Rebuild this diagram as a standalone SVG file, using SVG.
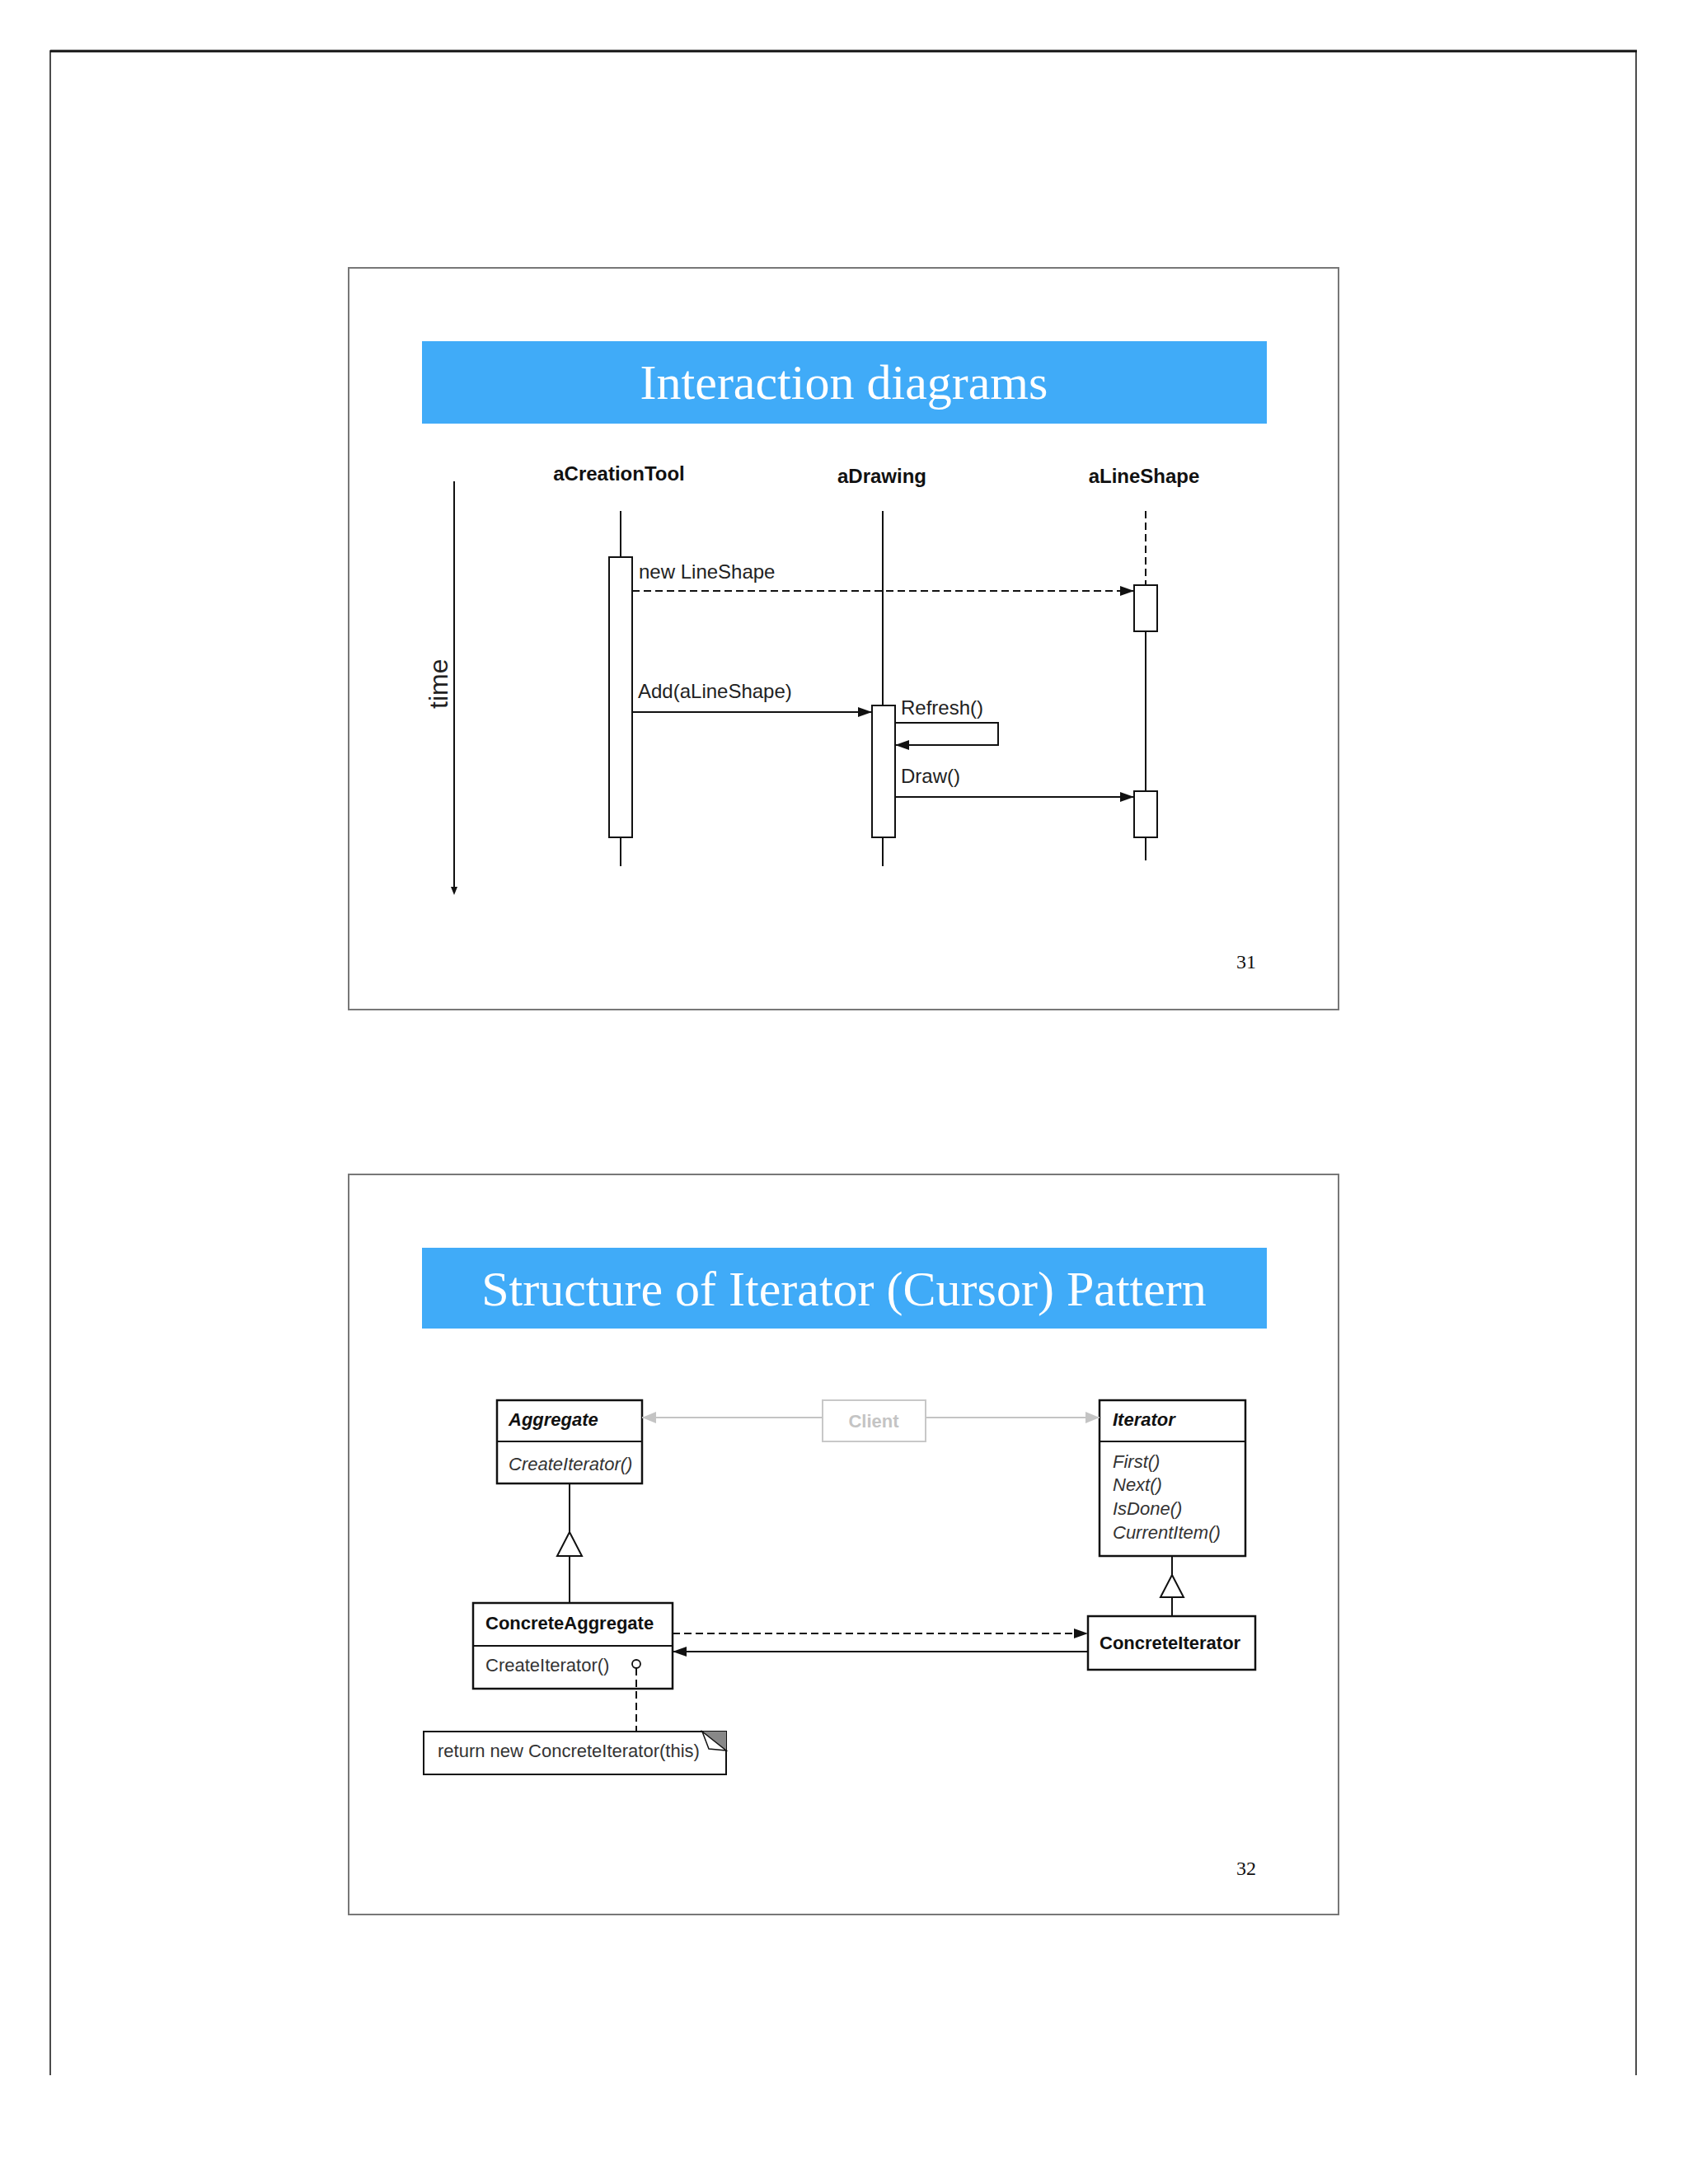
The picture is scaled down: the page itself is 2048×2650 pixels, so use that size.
<svg xmlns="http://www.w3.org/2000/svg" width="2048" height="2650" viewBox="0 0 2048 2650">
<style>
.frame{fill:none;stroke:#777;stroke-width:2}
.banner{fill:#40abf8}
.title{font-family:"Liberation Serif","Times New Roman",serif;font-size:60px;fill:#fff;text-anchor:middle}
.pnum{font-family:"Liberation Serif","Times New Roman",serif;font-size:24px;fill:#111}
.lbl{font-family:"Liberation Sans",Arial,sans-serif;font-size:24px;fill:#222}
.hdr{font-family:"Liberation Sans",Arial,sans-serif;font-size:24px;font-weight:bold;fill:#111;text-anchor:middle}
.ln{stroke:#111;stroke-width:2;fill:none}
.dash{stroke:#111;stroke-width:2;fill:none;stroke-dasharray:9,5}
.act{fill:#fff;stroke:#111;stroke-width:2}
.box{fill:#fff;stroke:#111;stroke-width:2.5}
.cn{font-family:"Liberation Sans",Arial,sans-serif;font-size:22px;font-weight:bold;fill:#111}
.cni{font-family:"Liberation Sans",Arial,sans-serif;font-size:22px;font-weight:bold;font-style:italic;fill:#111}
.op{font-family:"Liberation Sans",Arial,sans-serif;font-size:22px;fill:#333}
.opi{font-family:"Liberation Sans",Arial,sans-serif;font-size:22px;font-style:italic;fill:#333}
.gray{stroke:#c4c4c4;stroke-width:2;fill:none}
</style>
<defs>
<marker id="ah" markerUnits="userSpaceOnUse" markerWidth="18" markerHeight="14" refX="17" refY="7" orient="auto">
<path d="M0,1 L17,7 L0,13 z" fill="#111"/>
</marker>
<marker id="ahg" markerUnits="userSpaceOnUse" markerWidth="18" markerHeight="16" refX="17" refY="8" orient="auto">
<path d="M0,1 L17,8 L0,15 z" fill="#c4c4c4"/>
</marker>
</defs>
<rect width="2048" height="2650" fill="#fff"/>
<g id="page">
<line x1="61" y1="62" x2="1986" y2="62" stroke="#111" stroke-width="3"/>
<line x1="61" y1="61" x2="61" y2="2518" stroke="#111" stroke-width="1.5"/>
<line x1="1985" y1="61" x2="1985" y2="2518" stroke="#111" stroke-width="1.5"/>
</g>
<!-- Slide 31 -->
<g id="slide31">
<rect class="frame" x="423" y="325" width="1201" height="900"/>
<rect class="banner" x="512" y="414" width="1025" height="100"/>
<text class="title" x="1024" y="484">Interaction diagrams</text>
<text class="pnum" x="1500" y="1175">31</text>
<g id="time-axis">
<line class="ln" x1="551" y1="584" x2="551" y2="1078" stroke-width="1.5"/>
<path d="M547,1076 L551,1086 L555,1076 z" fill="#111"/>
<text class="lbl" style="font-size:32px" transform="translate(543,860) rotate(-90)">time</text>
</g>
<g id="aCreationTool">
<text class="hdr" x="751" y="583">aCreationTool</text>
<line class="ln" x1="753" y1="620" x2="753" y2="1051"/>
<rect class="act" x="739" y="676" width="28" height="340"/>
</g>
<g id="aDrawing">
<text class="hdr" x="1070" y="586">aDrawing</text>
<line class="ln" x1="1071" y1="620" x2="1071" y2="1051"/>
<rect class="act" x="1058" y="856" width="28" height="160"/>
</g>
<g id="aLineShape">
<text class="hdr" x="1388" y="586">aLineShape</text>
<line class="dash" x1="1390" y1="620" x2="1390" y2="710" stroke-dasharray="8,6"/>
<line class="ln" x1="1390" y1="766" x2="1390" y2="960"/>
<line class="ln" x1="1390" y1="1016" x2="1390" y2="1044"/>
<rect class="act" x="1376" y="710" width="28" height="56"/>
<rect class="act" x="1376" y="960" width="28" height="56"/>
</g>
<g id="messages">
<line class="dash" x1="767" y1="717" x2="1376" y2="717" marker-end="url(#ah)"/>
<text class="lbl" x="775" y="702">new LineShape</text>
<line class="ln" x1="767" y1="864" x2="1058" y2="864" marker-end="url(#ah)"/>
<text class="lbl" x="774" y="847">Add(aLineShape)</text>
<path class="ln" d="M1086,877 L1211,877 L1211,904 L1086,904" marker-end="url(#ah)"/>
<text class="lbl" x="1093" y="867">Refresh()</text>
<line class="ln" x1="1086" y1="967" x2="1376" y2="967" marker-end="url(#ah)"/>
<text class="lbl" x="1093" y="950">Draw()</text>
</g>
</g>
<!-- Slide 32 -->
<g id="slide32">
<rect class="frame" x="423" y="1425" width="1201" height="898"/>
<rect class="banner" x="512" y="1514" width="1025" height="98"/>
<text class="title" x="1024" y="1584">Structure of Iterator (Cursor) Pattern</text>
<text class="pnum" x="1500" y="2275">32</text>
<g id="Aggregate">
<rect class="box" x="603" y="1699" width="176" height="101"/>
<line class="ln" x1="603" y1="1749" x2="779" y2="1749"/>
<text class="cni" x="617" y="1730">Aggregate</text>
<text class="opi" x="617" y="1784">CreateIterator()</text>
</g>
<g id="Client">
<rect x="998" y="1699" width="125" height="50" fill="#fff" stroke="#c8c8c8" stroke-width="2"/>
<text x="1060" y="1732" text-anchor="middle" font-family="'Liberation Sans',Arial,sans-serif" font-size="22" font-weight="bold" fill="#c4c4c4">Client</text>
</g>
<g id="Iterator">
<rect class="box" x="1334" y="1699" width="177" height="189"/>
<line class="ln" x1="1334" y1="1749" x2="1511" y2="1749"/>
<text class="cni" x="1350" y="1730">Iterator</text>
<text class="opi" x="1350" y="1781">First()</text>
<text class="opi" x="1350" y="1809">Next()</text>
<text class="opi" x="1350" y="1838">IsDone()</text>
<text class="opi" x="1350" y="1867">CurrentItem()</text>
</g>
<g id="ConcreteAggregate">
<rect class="box" x="574" y="1945" width="242" height="104"/>
<line class="ln" x1="574" y1="1997" x2="816" y2="1997"/>
<text class="cn" x="589" y="1977">ConcreteAggregate</text>
<text class="op" x="589" y="2028">CreateIterator()</text>
<circle cx="772" cy="2019" r="5" fill="#fff" stroke="#111" stroke-width="1.8"/>
</g>
<g id="ConcreteIterator">
<rect class="box" x="1320" y="1961" width="203" height="65"/>
<text class="cn" x="1334" y="2001">ConcreteIterator</text>
</g>
<g id="Note">
<path d="M514,2101 L881,2101 L881,2153 L514,2153 z" fill="#fff" stroke="#111" stroke-width="2"/>
<path d="M852,2101 L881,2101 L881,2124 z" fill="#888"/>
<path d="M852,2101 L881,2124 L860,2122 z" fill="#fff" stroke="#111" stroke-width="1.5"/>
<text class="op" x="531" y="2132">return new ConcreteIterator(this)</text>
</g>
<g id="connectors">
<line class="gray" x1="998" y1="1720" x2="779" y2="1720" marker-end="url(#ahg)"/>
<line class="gray" x1="1123" y1="1720" x2="1334" y2="1720" marker-end="url(#ahg)"/>
<line class="ln" x1="691" y1="1800" x2="691" y2="1888"/>
<line class="ln" x1="691" y1="1859" x2="691" y2="1945"/>
<polygon points="691,1859 676,1888 706,1888" fill="#fff" stroke="#111" stroke-width="2"/>
<line class="ln" x1="1422" y1="1888" x2="1422" y2="1912"/>
<line class="ln" x1="1422" y1="1938" x2="1422" y2="1961"/>
<polygon points="1422,1911 1408,1938 1436,1938" fill="#fff" stroke="#111" stroke-width="2"/>
<line class="dash" x1="816" y1="1982" x2="1320" y2="1982" marker-end="url(#ah)"/>
<line class="ln" x1="1320" y1="2004" x2="816" y2="2004" marker-end="url(#ah)"/>
<line class="dash" x1="772" y1="2024" x2="772" y2="2101" stroke-dasharray="10,7" stroke-width="1.5"/>
</g>
</g>
</svg>
